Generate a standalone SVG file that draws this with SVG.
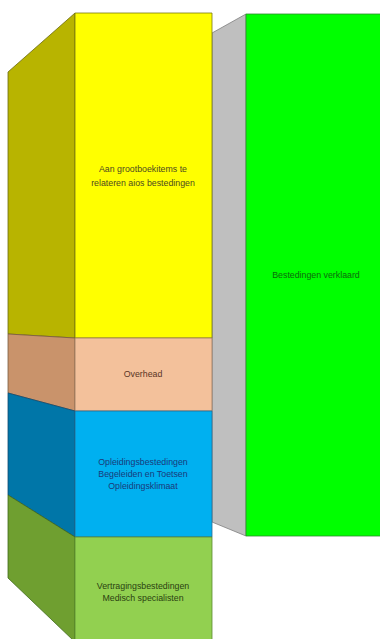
<svg xmlns="http://www.w3.org/2000/svg" width="380" height="639" viewBox="0 0 380 639">
<style>
  text { font-family: "Liberation Sans", Arial, sans-serif; font-size: 8.8px; text-anchor: middle; }
  .edge { stroke-width: 0.8; stroke-linejoin: round; }
</style>
<rect x="0" y="0" width="380" height="639" fill="#ffffff"/>
<g id="verklaard">
  <polygon class="edge" points="212,33 246,14 246,536 212,522" fill="#bfbfbf" stroke="#7f7f7f"/>
  <rect class="edge" x="246" y="14" width="144" height="522" fill="#00ff00" stroke="#2e8b2e"/>
  <text x="316" y="278" fill="#0d6b0d">Bestedingen verklaard</text>
</g>
<g id="grootboek">
  <polygon class="edge" points="8,72 75,13 75,338 8,334" fill="#b8b400" stroke="#6b6a10"/>
  <rect class="edge" x="75" y="13" width="137" height="325" fill="#ffff00" stroke="#7a7a10"/>
  <text x="143" y="172" fill="#4d4a20">Aan grootboekitems te</text>
  <text x="143" y="186" fill="#4d4a20">relateren aios bestedingen</text>
</g>
<g id="overhead">
  <polygon class="edge" points="8,334 75,338 75,411 8,393" fill="#c9936b" stroke="#7a5a40"/>
  <rect class="edge" x="75" y="338" width="137" height="73" fill="#f3c19b" stroke="#9a7a60"/>
  <text x="143" y="377" fill="#5a3525">Overhead</text>
</g>
<g id="opleiding">
  <polygon class="edge" points="8,393 75,411 75,537 8,495" fill="#0076a8" stroke="#104a70"/>
  <rect class="edge" x="75" y="411" width="137" height="126" fill="#00b0f0" stroke="#2a6a90"/>
  <text x="143" y="465" fill="#1a3a7a">Opleidingsbestedingen</text>
  <text x="143" y="477" fill="#1a3a7a">Begeleiden en Toetsen</text>
  <text x="143" y="489" fill="#1a3a7a">Opleidingsklimaat</text>
</g>
<g id="vertraging">
  <polygon class="edge" points="8,495 75,537 75,642 8,578" fill="#6f9f30" stroke="#3f6a1a"/>
  <rect class="edge" x="75" y="537" width="137" height="105" fill="#92d050" stroke="#5a8a30"/>
  <text x="143" y="589" fill="#2a4210">Vertragingsbestedingen</text>
  <text x="143" y="601" fill="#2a4210">Medisch specialisten</text>
</g>
</svg>
